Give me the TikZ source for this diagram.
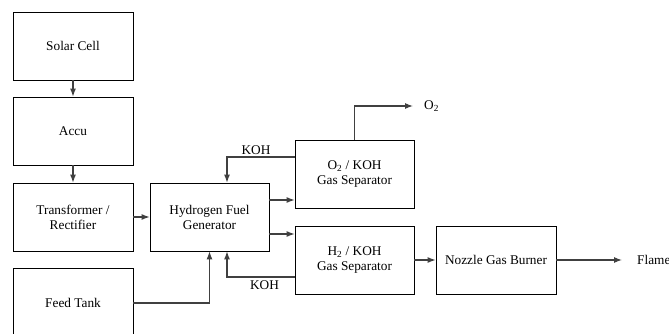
\documentclass[tikz,border=0pt]{standalone}
\usepackage{fontspec}
\setmainfont{Liberation Serif}
\usetikzlibrary{arrows.meta}
\begin{document}
\begin{tikzpicture}[x=1pt,y=-1pt,
  blk/.style={draw=black, line width=0.8pt, minimum width=120pt, minimum height=68pt, align=center, inner sep=1pt, font=\fontsize{13.3}{15}\selectfont},
  lbl/.style={font=\fontsize{13.3}{15}\selectfont, inner sep=0pt},
  conn/.style={draw=black!75, line width=1.1pt, -{Latex[length=8pt,width=6pt]}},
  line/.style={draw=black!75, line width=1.1pt}]
\useasboundingbox (0,0) rectangle (669,334);
\node[blk] (solar) at (73,46) {Solar Cell};
\node[blk] (accu) at (73,131) {Accu};
\node[blk] (trans) at (73,217) {Transformer /\\Rectifier};
\node[blk, minimum height=70pt] (feed) at (73,303) {Feed Tank};
\node[blk, minimum width=119pt] (gen) at (209.5,217) {Hydrogen Fuel\\Generator};
\node[blk, minimum width=119pt] (o2) at (354.5,174) {O\textsubscript{2} / KOH\\Gas Separator};
\node[blk, minimum width=119pt] (h2) at (354.5,260) {H\textsubscript{2} / KOH\\Gas Separator};
\node[blk] (noz) at (496,260) {Nozzle Gas Burner};
\coordinate (o2out) at (413,106);
\coordinate (flame) at (622,260);
\node[lbl, anchor=west] (o2t) at (424,106) {O\textsubscript{2}};
\node[lbl, anchor=west] (flamet) at (637,260) {Flame};
\node[lbl] (koh1) at (256,150) {KOH};
\node[lbl] (koh2) at (264.5,285) {KOH};
\draw[conn] (solar) -- (accu);
\draw[conn] (accu) -- (trans);
\draw[conn] (trans) -- (gen);
\draw[conn] (feed.east) -| (gen.south);
\draw[conn] ([yshift=17pt]o2.west) -| ([xshift=17.5pt]gen.north);
\draw[conn] ([yshift=-17pt]h2.west) -| ([xshift=17.5pt]gen.south);
\draw[conn] ([yshift=17pt]gen.east) -- ([yshift=17pt]gen.east -| o2.west);
\draw[conn] ([yshift=-17pt]gen.east) -- ([yshift=-17pt]gen.east -| h2.west);
\draw[conn] (h2) -- (noz);
\draw[conn] (o2.north) |- (o2out);
\draw[conn] (noz) -- (flame);
\end{tikzpicture}
\end{document}
